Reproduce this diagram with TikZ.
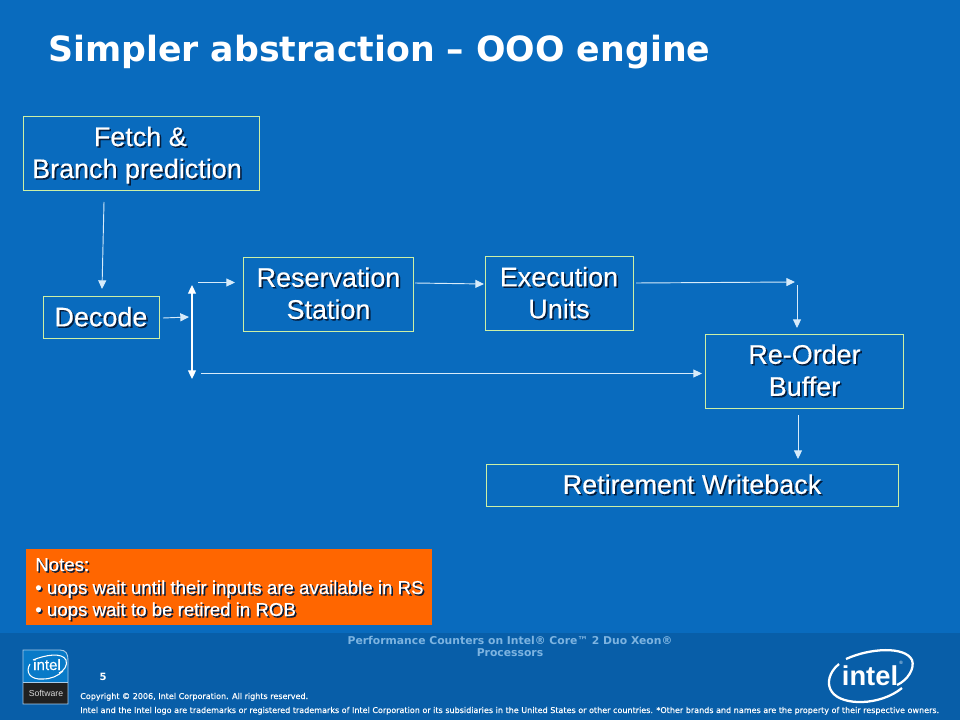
\documentclass[tikz,border=0pt]{standalone}
\usepackage{fontspec}
\setmainfont{Liberation Sans}
\newfontfamily\vfont{DejaVu Sans}
\newfontfamily\vfontheavy[FakeBold=0.25]{DejaVu Sans}
\newfontfamily\bodyfont[FakeBold=0.35]{Liberation Sans}
\usetikzlibrary{arrows.meta,calc}
\definecolor{bgblue}{RGB}{9,107,190}
\definecolor{footblue}{RGB}{8,94,168}
\definecolor{boxline}{RGB}{205,240,165}
\definecolor{arrowc}{RGB}{215,235,250}
\definecolor{notesor}{RGB}{255,102,0}
\definecolor{shadowc}{RGB}{4,28,60}
\definecolor{footer}{RGB}{125,180,225}
\definecolor{logoblue}{RGB}{8,122,200}
\definecolor{logoblack}{RGB}{32,32,32}
\newcommand{\shd}[1]{\leavevmode\rlap{\hspace{1.2pt}\raisebox{-1.2pt}{\textcolor{shadowc}{#1}}}#1}
\tikzset{
  x=0.75pt,y=-0.75pt,
  flowbox/.style={draw=boxline,line width=0.6pt,fill=bgblue,text=white,inner sep=0pt,align=center,font=\bodyfont\fontsize{20.2}{24}\selectfont},
  flow/.style={draw=arrowc,line width=0.7pt,-{Triangle[length=6.5pt,width=6pt]}},
  flowtwo/.style={draw=white,line width=0.8pt,{Triangle[length=6.5pt,width=6pt]}-{Triangle[length=6.5pt,width=6pt]}},
  footsmall/.style={text=white,anchor=base west,inner sep=0pt,font=\vfontheavy\fontsize{6.03}{7}\selectfont},
}
\begin{document}
\begin{tikzpicture}
\useasboundingbox (0,0) rectangle (960,720);
\fill[bgblue] (0,0) rectangle (960,720);
\fill[footblue] (0,633) rectangle (960,720);
\node[anchor=base west,inner sep=0pt,text=white,font=\vfont\bfseries\fontsize{26.05}{30}\selectfont] (title) at (48,62) {Simpler abstraction – OOO engine};

\node[flowbox,minimum width=177pt,minimum height=55.5pt] (fetch) at (141,153) {\rule{0pt}{19pt}\shd{Fetch \&}\hspace*{1pt}\\\shd{Branch prediction}\hspace*{6pt}};
\node[flowbox,minimum width=87pt,minimum height=32pt] (decode) at (101,317.5) {\shd{Decode}};
\node[flowbox,minimum width=128pt,minimum height=55.5pt] (rs) at (328.5,294) {\shd{Reservation}\\\shd{Station}};
\node[flowbox,minimum width=111pt,minimum height=56pt] (eu) at (559,293.5) {\shd{Execution}\\\shd{Units}};
\node[flowbox,minimum width=148pt,minimum height=55.5pt] (rob) at (804.5,371) {\shd{Re-Order}\\\shd{Buffer}};
\node[flowbox,minimum width=309pt,minimum height=31.5pt] (ret) at (692,485) {\shd{Retirement Writeback}};

\coordinate (a1) at (104,202); \coordinate (a2) at (102,289);
\coordinate (b1) at (163,318); \coordinate (b2) at (189,317);
\coordinate (c1) at (192,285); \coordinate (c2) at (192,379);
\coordinate (d1) at (198,282.5); \coordinate (d2) at (235,282.5);
\coordinate (e1) at (415,283); \coordinate (e2) at (484,284);
\coordinate (f1) at (636,283); \coordinate (f2) at (795,282);
\coordinate (g1) at (797,285); \coordinate (g2) at (797,328);
\coordinate (h1) at (201,373.5); \coordinate (h2) at (702,373.5);
\coordinate (i1) at (798,415); \coordinate (i2) at (798,459);
\draw[flow] (a1) -- (a2);
\draw[flow] (b1) -- (b2);
\draw[flowtwo] (c1) -- (c2);
\draw[flow] (d1) -- (d2);
\draw[flow] (e1) -- (e2);
\draw[flow] (f1) -- (f2);
\draw[flow] (g1) -- (g2);
\draw[flow] (h1) -- (h2);
\draw[flow] (i1) -- (i2);

\node[anchor=north west,fill=notesor,minimum width=304.5pt,minimum height=57pt,inner sep=0pt] (notes) at (26,549) {};
\begin{scope}[every node/.style={anchor=base west,inner sep=0pt,text=white,font=\bodyfont\fontsize{14}{17}\selectfont}]
\node (n1) at (35,571) {\shd{Notes:}};
\node (n2) at (35,594) {\shd{• uops wait until their inputs are available in RS}};
\node (n3) at (35,616) {\shd{• uops wait to be retired in ROB}};
\end{scope}

\node[anchor=base,inner sep=0pt,align=center,text=footer,font=\vfont\bfseries\fontsize{8.1}{9}\selectfont] (ft) at (510,656) {Performance Counters on Intel® Core™ 2 Duo Xeon®\\Processors};
\node[anchor=base,inner sep=0pt,text=white,font=\vfont\bfseries\fontsize{7.5}{8}\selectfont] (num) at (103,680) {5};
\node[footsmall] (c1t) at (80,699) {Copyright © 2006, Intel Corporation. All rights reserved.};
\node[footsmall] (c2t) at (80,713) {Intel and the Intel logo are trademarks or registered trademarks of Intel Corporation or its subsidiaries in the United States or other countries. *Other brands and names are the property of their respective owners.};

% small logo
\fill[logoblack] (23,682) rectangle (68,704);
\fill[logoblue] (23,650) -- (60,650) .. controls (66,650) and (68,654) .. (68,660) -- (68,682) -- (23,682) -- cycle;
\draw[white!65!bgblue,line width=0.7pt] (23,650) -- (60,650) .. controls (66,650) and (68,654) .. (68,660) -- (68,704) -- (23,704) -- cycle;
\draw[white!65!bgblue,line width=0.7pt] (23,682) -- (68,682);
\draw[white,line width=0.8pt] (33,660) .. controls (45,655) and (62,652) .. (66,660) .. controls (68,665) and (64,671) .. (59,673);
\draw[white,line width=0.8pt] (30,664) .. controls (25,672) and (30,680) .. (43,679) .. controls (51,679) and (58,676) .. (63,671);
\node[anchor=base,inner sep=0pt,text=white,font=\bodyfont\fontsize{11.3}{12}\selectfont] (l1) at (47,670) {intel};
\node[inner sep=0pt,text=white!85!black,font=\fontsize{6.5}{8}\selectfont] (l2) at (46,693) {Software};

% big logo
\draw[white,line width=1.7pt] (846,659) .. controls (870,648) and (905,646) .. (912,660) .. controls (915,668) and (908,680) .. (897,685);
\draw[white,line width=1.7pt] (839,664) .. controls (829,672) and (826,684) .. (832,692) .. controls (842,706) and (880,706) .. (902,688);
\node[anchor=base,inner sep=0pt,text=white,font=\bfseries\fontsize{20.5}{24}\selectfont] (l3) at (870,685) {intel};
\node[inner sep=0pt,text=white,font=\fontsize{3.5}{4}\selectfont] (l4) at (901,663) {®};
\end{tikzpicture}
\end{document}
